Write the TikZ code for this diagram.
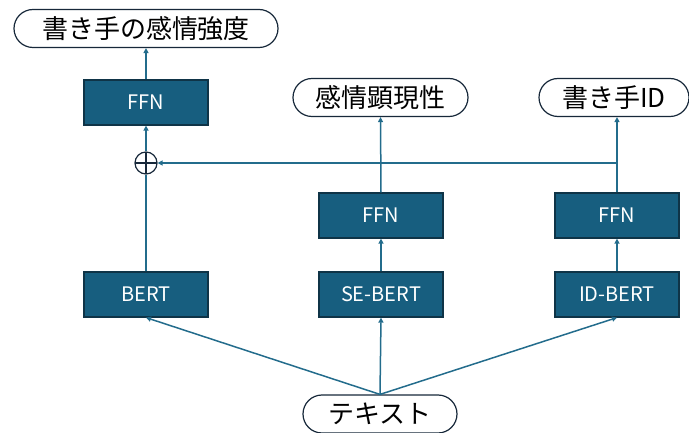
\documentclass[tikz,border=0pt]{standalone}
\usepackage{fontspec}
\setmainfont{Noto Sans CJK JP}
\usetikzlibrary{arrows.meta,shapes.misc}
\definecolor{boxfill}{HTML}{175E7F}
\definecolor{boxdraw}{HTML}{0F3447}
\definecolor{linec}{HTML}{236C8C}
\definecolor{termdraw}{HTML}{17283A}
\tikzset{
  procbox/.style={rectangle, fill=boxfill, draw=boxdraw, line width=1.2pt,
    minimum width=124pt, minimum height=45pt, inner sep=0pt, text=white,
    font=\fontsize{20}{20}\selectfont},
  termbox/.style={rounded rectangle, draw=termdraw, line width=1.2pt, fill=white,
    minimum height=38pt, inner sep=0pt, font=\fontsize{26}{26}\selectfont},
  conn/.style={draw=linec, line width=1.5pt},
  arr/.style={conn, -{Triangle[length=5pt,width=5pt]}},
}
\begin{document}
\begin{tikzpicture}[x=1pt,y=-1pt]
\useasboundingbox (0,0) rectangle (689,433);
% terminals
\node[termbox, minimum width=264pt] (out1) at (146,28.5) {書き手の感情強度};
\node[termbox, minimum width=175pt] (out2) at (380.5,97.5) {感情顕現性};
\node[termbox, minimum width=150pt] (out3) at (614,97.5) {書き手ID};
\node[termbox, minimum width=154pt] (txt) at (380,414) {テキスト};
% process boxes
\node[procbox] (ffn1) at (146,102.5) {FFN};
\node[procbox] (ffn2) at (381,215.5) {FFN};
\node[procbox] (ffn3) at (617,215.5) {FFN};
\node[procbox] (bert) at (146,294.5) {BERT};
\node[procbox] (sebert) at (381,294.5) {SE-BERT};
\node[procbox] (idbert) at (617,294.5) {ID-BERT};
% plus
\node[circle, draw=termdraw, line width=1.2pt, minimum size=22pt, inner sep=0pt,
  path picture={\draw[termdraw, line width=1.2pt]
    (path picture bounding box.north) -- (path picture bounding box.south)
    (path picture bounding box.west) -- (path picture bounding box.east);}]
  (plus) at (146,163) {};
% connectors
\draw[arr] (txt.north) -- (bert.south);
\draw[arr] (txt.north) -- (sebert.south);
\draw[arr] (txt.north) -- (idbert.south);
\draw[conn] (bert.north) -- (plus.south);
\draw[arr] (plus.north) -- (ffn1.south);
\draw[arr] (ffn1.north) -- (out1.south);
\draw[arr] (sebert.north) -- (ffn2.south);
\draw[arr] (ffn2.north) -- (out2.south);
\draw[arr] (idbert.north) -- (ffn3.south);
\coordinate (top3) at (ffn3.north |- out3.south);
\draw[arr] (ffn3.north) -- (top3);
\coordinate (br) at (ffn3.north |- plus.east);
\draw[arr] (br) -- (plus.east);
\end{tikzpicture}
\end{document}
